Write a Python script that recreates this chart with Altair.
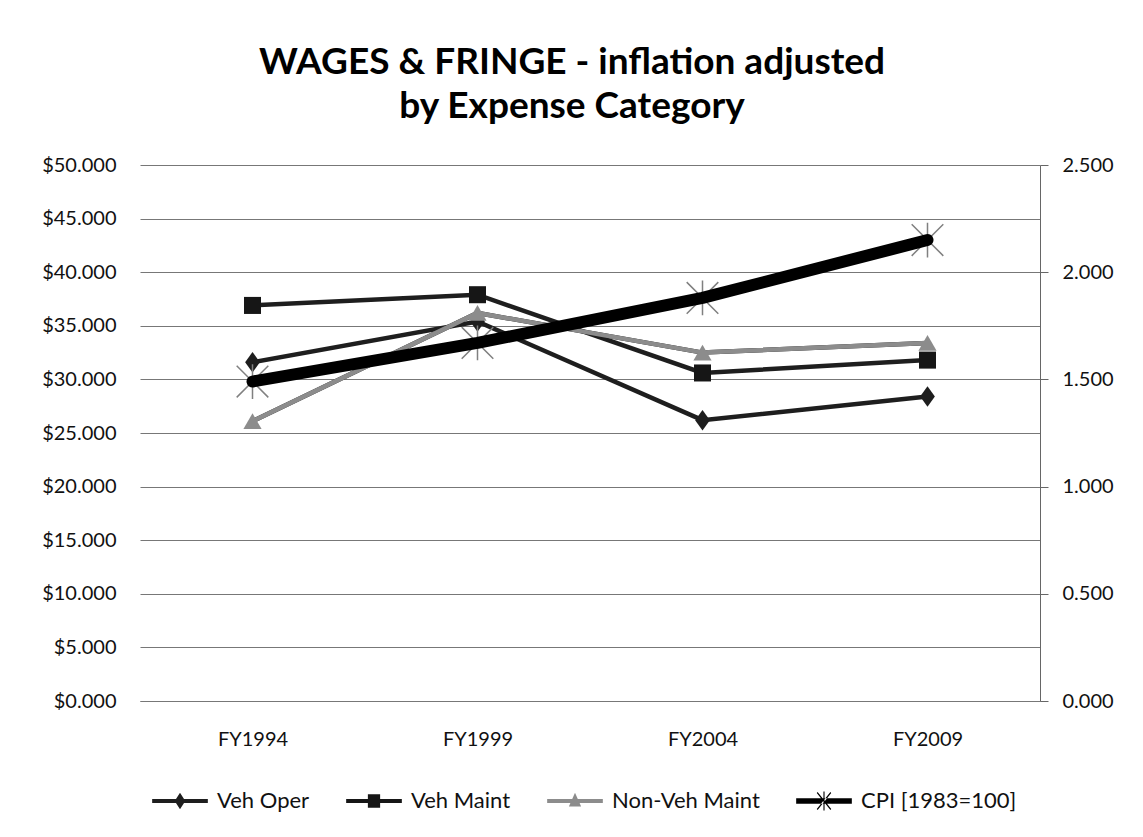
import altair as alt
import pandas as pd

# ---- data ----
categories = ["FY1994", "FY1999", "FY2004", "FY2009"]
veh_oper = [31.6, 35.4, 26.2, 28.4]
veh_maint = [36.9, 37.9, 30.6, 31.8]
non_veh_maint = [26.1, 36.2, 32.5, 33.4]
cpi = [1.49, 1.67, 1.88, 2.15]

series_names = ["Veh Oper", "Veh Maint", "Non-Veh Maint", "CPI [1983=100]"]
series_colors = ["#1e1e1e", "#161616", "#8c8c8c", "#000000"]
left_ticks = [0, 5, 10, 15, 20, 25, 30, 35, 40, 45, 50]
right_ticks = [0.0, 0.5, 1.0, 1.5, 2.0, 2.5]

FONT = "Lato"
LBL = 20

rows = []
for name, vals in zip(series_names[:3], [veh_oper, veh_maint, non_veh_maint]):
    for c, v in zip(categories, vals):
        rows.append({"cat": c, "series": name, "value": v})
left_df = pd.DataFrame(rows)
cpi_df = pd.DataFrame({"cat": categories, "series": series_names[3], "value": cpi})
legend_df = pd.DataFrame({"series": series_names})

x_enc = alt.X("cat:N", sort=categories, scale=alt.Scale(domain=categories),
              axis=alt.Axis(title=None, labelAngle=0, ticks=False, domain=True,
                            domainColor="#777777", labelPadding=28, grid=False,
                            labelFontSize=LBL, labelFont=FONT, labelColor="#111"))

y_left = alt.Y("value:Q", scale=alt.Scale(domain=[0, 50], nice=False),
               axis=alt.Axis(title=None, values=left_ticks, format="$.3f",
                             grid=True, gridColor="#777777", gridWidth=1,
                             domain=False, ticks=False, labelPadding=24,
                             labelFontSize=LBL, labelFont=FONT, labelColor="#111"))

y_right = alt.Y("value:Q", scale=alt.Scale(domain=[0, 2.5], nice=False),
                axis=alt.Axis(title=None, orient="right", values=right_ticks,
                              format=".3f", grid=False, domain=True,
                              domainColor="#666666", ticks=True, tickSize=8,
                              tickColor="#666666", labelPadding=14,
                              labelFontSize=LBL, labelFont=FONT, labelColor="#111"))

left_lines = alt.Chart(left_df).mark_line(strokeWidth=4.5).encode(
    x=x_enc, y=y_left,
    detail="series:N",
    color=alt.value("#1e1e1e"),
    order=alt.Order("cat:N"),
)
gray_line = alt.Chart(left_df).transform_filter(
    alt.datum.series == series_names[2]
).mark_line(strokeWidth=4.5, color=series_colors[2]).encode(
    x=x_enc, y=y_left, order=alt.Order("cat:N"))

diamond = "M0,-1L0.72,0L0,1L-0.72,0Z"
marker_specs = [
    (series_names[0], diamond, 420, series_colors[0]),
    (series_names[1], "square", 290, series_colors[1]),
    (series_names[2], "triangle-up", 330, series_colors[2]),
]
marker_layers = []
for name, shp, sz, col in marker_specs:
    marker_layers.append(
        alt.Chart(left_df).transform_filter(alt.datum.series == name)
        .mark_point(shape=shp, size=sz, filled=True, color=col, opacity=1)
        .encode(x=x_enc, y=y_left)
    )

leg_diamond = "M-1,-0.07L1,-0.07L1,0.07L-1,0.07Z M0,-0.3L0.19,0L0,0.3L-0.19,0Z"
leg_square = "M-1,-0.07L1,-0.07L1,0.07L-1,0.07Z M-0.22,-0.24L0.22,-0.24L0.22,0.24L-0.22,0.24Z"
leg_triangle = "M-1,-0.07L1,-0.07L1,0.07L-1,0.07Z M0,-0.3L0.22,0.2L-0.22,0.2Z"
leg_cpi = ("M-1,-0.1L1,-0.1L1,0.1L-1,0.1Z M-0.02,-0.34L0.02,-0.34L0.02,0.34L-0.02,0.34Z "
           "M-0.26,-0.29L-0.23,-0.32L0.26,0.29L0.23,0.32Z "
           "M0.26,-0.29L0.23,-0.32L-0.26,0.29L-0.23,0.32Z")

legend_props = dict(orient="none", legendX=12, legendY=608,
                    direction="horizontal",
                    labelFontSize=22, labelFont=FONT,
                    labelColor="#111", symbolSize=3100,
                    symbolStrokeWidth=0, columnPadding=36,
                    labelOffset=9, symbolOpacity=1)
legend_layer = alt.Chart(legend_df).mark_point(filled=True, size=1).encode(
    shape=alt.Shape("series:N", title=None,
                    scale=alt.Scale(domain=series_names,
                                    range=[leg_diamond, leg_square, leg_triangle, leg_cpi]),
                    legend=alt.Legend(**legend_props)),
    color=alt.Color("series:N", title=None,
                    scale=alt.Scale(domain=series_names,
                                    range=["#1e1e1e", "#161616", "#8c8c8c", "#000000"]),
                    legend=alt.Legend(**legend_props)),
    opacity=alt.value(0),
)

left_group = alt.layer(left_lines, gray_line, *marker_layers, legend_layer)

star = "M-1,-1L1,1M-1,1L1,-1M0,-1.1L0,1.1"
cpi_star = alt.Chart(cpi_df).mark_point(
    shape=star, size=1000, filled=False, stroke="#808080", strokeWidth=1.5, opacity=1
).encode(x=x_enc, y=y_right)
cpi_line = alt.Chart(cpi_df).mark_line(
    strokeWidth=12, color="#000000", strokeCap="round", strokeJoin="round"
).encode(x=x_enc, y=y_right, order=alt.Order("cat:N"))

right_group = alt.layer(cpi_star, cpi_line)

chart = alt.layer(left_group, right_group).resolve_scale(
    y="independent"
).properties(
    width=900, height=536,
    background="white",
    padding={"left": 132, "top": 157, "right": 95, "bottom": 128},
    autosize=alt.AutoSizeParams(type="none"),
    title=alt.TitleParams(["WAGES & FRINGE - inflation adjusted", "by Expense Category"],
                          fontSize=37, font=FONT, fontWeight="bold", anchor="middle",
                          dx=-18, offset=29, lineHeight=44, color="#000"),
).configure_view(strokeWidth=0, strokeOpacity=0)

chart.save("out.html", embed_options={"renderer": "svg", "actions": False})
